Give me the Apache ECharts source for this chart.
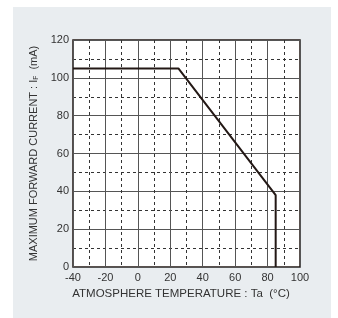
<!DOCTYPE html>
<html><head><meta charset="utf-8">
<script src="https://cdn.jsdelivr.net/npm/echarts@6/dist/echarts.min.js"></script>
<style>html,body{margin:0;padding:0;background:#fff}#c{width:338px;height:318px}</style>
</head><body><div id="c"></div>
<script>
const temps = [-40, 25, 85, 85];
const currents = [105, 105, 38, 0];
const xTicks = [-40, -20, 0, 20, 40, 60, 80, 100];
const yTicks = [0, 20, 40, 60, 80, 100, 120];

const chart = echarts.init(document.getElementById('c'), null, {renderer: 'canvas'});
const font = 'Liberation Sans, Arial, sans-serif';
chart.setOption({
  animation: false,
  backgroundColor: '#fff',
  graphic: [{type: 'rect', z: -10, shape: {x: 13, y: 7, width: 318, height: 311}, style: {fill: '#e9edf0'}}],
  grid: {left: 73, right: 38, top: 40, bottom: 51, show: true, backgroundColor: '#fff', borderColor: '#231815', borderWidth: 1.5, z: 0},
  xAxis: {
    type: 'value', min: xTicks[0], max: xTicks[xTicks.length - 1], interval: 20,
    name: 'ATMOSPHERE TEMPERATURE : Ta  (°C)', nameLocation: 'middle', nameGap: 19,
    nameTextStyle: {fontFamily: font, fontSize: 11.5, color: '#333', padding: [0, 11, 0, 0]},
    axisLine: {show: false}, axisTick: {show: false},
    axisLabel: {margin: 5, fontFamily: font, fontSize: 11, color: '#333'},
    splitLine: {show: true, lineStyle: {color: '#555', width: 1}},
    minorTick: {show: false, splitNumber: 2},
    minorSplitLine: {show: true, lineStyle: {color: '#333', width: 1, type: [3, 3]}}
  },
  yAxis: {
    type: 'value', min: yTicks[0], max: yTicks[yTicks.length - 1], interval: 20,
    name: 'MAXIMUM FORWARD CURRENT : I{sub|F}  (mA)', nameLocation: 'middle', nameGap: 32,
    nameTextStyle: {fontFamily: font, fontSize: 11, color: '#333', rich: {sub: {fontFamily: font, fontSize: 6.5, color: '#333', verticalAlign: 'bottom'}}},
    axisLine: {show: false}, axisTick: {show: false},
    axisLabel: {margin: 4, fontFamily: font, fontSize: 11, color: '#333'},
    splitLine: {show: true, lineStyle: {color: '#555', width: 1}},
    minorTick: {show: false, splitNumber: 2},
    minorSplitLine: {show: true, lineStyle: {color: '#333', width: 1, type: [3, 3]}}
  },
  series: [{
    type: 'line', data: temps.map((t, i) => [t, currents[i]]),
    symbol: 'none', lineStyle: {color: '#231815', width: 2}, z: 5
  }]
});
</script></body></html>
